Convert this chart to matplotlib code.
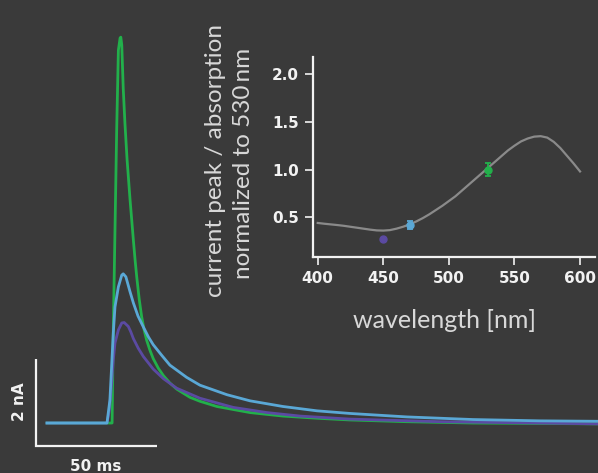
import matplotlib
matplotlib.use("Agg")
import matplotlib.pyplot as plt

# ---------------- data ----------------
# main traces: time [ms], current [nA]
green_t = [0, 26.9, 27.4, 28.1, 28.8, 29.5, 30.2, 30.5, 30.9, 31.5, 32.2, 33.1, 34.3, 35.7, 36.4,
           37.1, 38.1, 39.1, 40.1, 41.2, 42.5, 43.9, 46.0, 48.1, 50.8, 53.6, 59.1, 63.2, 70.2,
           83.9, 97.5, 111.6, 125.2, 148.8, 176.0, 203.7, 227.3]
green_i = [0, 0, 2.14, 4.44, 6.74, 8.57, 8.85, 8.87, 8.69, 7.70, 6.90, 6.05, 5.15, 4.20, 3.75,
           3.35, 2.85, 2.45, 2.15, 1.90, 1.68, 1.48, 1.26, 1.09, 0.92, 0.78, 0.59, 0.50, 0.38,
           0.24, 0.16, 0.11, 0.07, 0.03, 0.0, -0.01, -0.02]

blue_t = [0, 24.8, 25.2, 26.0, 26.7, 27.4, 28.1, 29.5, 30.9, 31.5, 32.6, 34.3, 35.7, 37.6, 39.8,
          41.9, 43.9, 47.5, 50.8, 57.7, 63.2, 74.4, 83.9, 97.5, 111.6, 125.2, 148.8, 176.0,
          203.7, 227.3]
blue_i = [0, 0, 0.18, 0.53, 1.29, 2.07, 2.67, 3.13, 3.40, 3.43, 3.36, 3.02, 2.76, 2.46, 2.21,
          1.98, 1.80, 1.55, 1.33, 1.05, 0.87, 0.65, 0.51, 0.38, 0.28, 0.22, 0.14, 0.08,
          0.05, 0.04]

purple_t = [0, 24.8, 25.8, 26.7, 27.4, 28.1, 29.5, 30.9, 31.9, 33.6, 34.6, 35.7, 37.7, 39.8,
            43.9, 48.1, 53.6, 63.2, 76.9, 90.9, 104.5, 125.2, 162.4, 227.3]
purple_i = [0, 0, 0.30, 0.92, 1.45, 1.84, 2.14, 2.30, 2.31, 2.22, 2.10, 1.94, 1.72, 1.53,
            1.24, 1.02, 0.80, 0.57, 0.36, 0.24, 0.16, 0.09, 0.03, -0.02]

# inset: absorption spectrum normalized to 530 nm
spec_wl = [400, 405, 410, 415, 420, 425, 430, 435, 440, 445, 450, 455, 460, 465, 470, 475,
           480, 485, 490, 495, 500, 505, 510, 515, 520, 525, 530, 535, 540, 545, 550, 555,
           560, 565, 570, 575, 580, 585, 590, 595, 600]
spec_val = [0.44, 0.432, 0.425, 0.418, 0.41, 0.40, 0.39, 0.38, 0.37, 0.362, 0.36, 0.365, 0.38,
            0.40, 0.425, 0.455, 0.49, 0.53, 0.575, 0.62, 0.67, 0.72, 0.78, 0.84, 0.90, 0.96,
            1.02, 1.08, 1.14, 1.20, 1.25, 1.295, 1.325, 1.345, 1.35, 1.335, 1.29, 1.225,
            1.145, 1.065, 0.98]

pt_wl = [450, 470, 530]
pt_val = [0.27, 0.42, 1.00]
pt_err = [0.0, 0.045, 0.07]

xticks = [400, 450, 500, 550, 600]
yticks = [0.5, 1.0, 1.5, 2.0]

# ---------------- style ----------------
BG = "#3a3a3a"
GREEN = "#22b04b"
BLUE = "#5aa8d6"
PURPLE = "#5b4aa2"
GRAY = "#8a8a8a"
WHITE = "#f2f2f2"
LABEL = "#d8d8d8"
pt_colors = [PURPLE, BLUE, GREEN]

fig = plt.figure(figsize=(5.98, 4.73), dpi=100)
fig.patch.set_facecolor(BG)

# main axes covering the whole figure
ax = fig.add_axes([0, 0, 1, 1])
ax.set_facecolor(BG)
ax.set_xlim(-19.42, 227.7)
ax.set_ylim(-1.149, 9.724)
ax.axis("off")

ax.plot(green_t, green_i, color=GREEN, lw=2.0, solid_joinstyle="round")
ax.plot(purple_t, purple_i, color=PURPLE, lw=2.0, solid_joinstyle="round")
ax.plot(blue_t, blue_i, color=BLUE, lw=2.0, solid_joinstyle="round")

# scale bars
sb_x0, sb_y0 = -4.55, -0.529
ax.plot([sb_x0, sb_x0, sb_x0 + 50], [sb_y0 + 2, sb_y0, sb_y0], color=WHITE, lw=1.6,
        solid_joinstyle="miter", solid_capstyle="butt")
ax.text(-11.2, 0.48, "2 nA", rotation=90, ha="center", va="center", color=WHITE,
        fontsize=11, fontweight="bold")
ax.text(20.2, -0.99, "50 ms", ha="center", va="center", color=WHITE,
        fontsize=11, fontweight="bold")

# inset
ins = fig.add_axes([313 / 598, 1 - 257.3 / 473, (595 - 313) / 598, (257.3 - 57) / 473])
ins.set_facecolor("none")
ins.set_xlim(396.4, 611.4)
ins.set_ylim(0.08, 2.18)
for s in ["top", "right"]:
    ins.spines[s].set_visible(False)
for s in ["left", "bottom"]:
    ins.spines[s].set_color(WHITE)
    ins.spines[s].set_linewidth(1.6)
ins.set_xticks(xticks)
ins.set_yticks(yticks)
ins.set_yticklabels([f"{v:.1f}" for v in yticks])
ins.tick_params(colors=WHITE, width=1.2, length=6, labelsize=11, pad=4)
for lab in ins.get_xticklabels() + ins.get_yticklabels():
    lab.set_fontweight("bold")

ins.plot(spec_wl, spec_val, color=GRAY, lw=1.6)
for w, v, e, c in zip(pt_wl, pt_val, pt_err, pt_colors):
    ins.errorbar([w], [v], yerr=[e] if e > 0 else None, fmt="o", color=c, ms=5,
                 capsize=2.5, elinewidth=1.3, capthick=1.3)

fig.text(215 / 598, 1 - 160 / 473, "current peak / absorption", rotation=90, ha="center",
         va="center", color=LABEL, fontsize=17.5, fontfamily="Lato", fontweight="normal")
fig.text(243 / 598, 1 - 163.5 / 473, "normalized to 530\u2009nm", rotation=90, ha="center",
         va="center", color=LABEL, fontsize=17.5, fontfamily="Lato", fontweight="normal")
fig.text(445 / 598, 1 - 320 / 473, "wavelength [nm]", ha="center", va="center",
         color=LABEL, fontsize=18, fontfamily="Lato", fontweight="normal")

fig.savefig("out.png", dpi=100, facecolor=BG)
